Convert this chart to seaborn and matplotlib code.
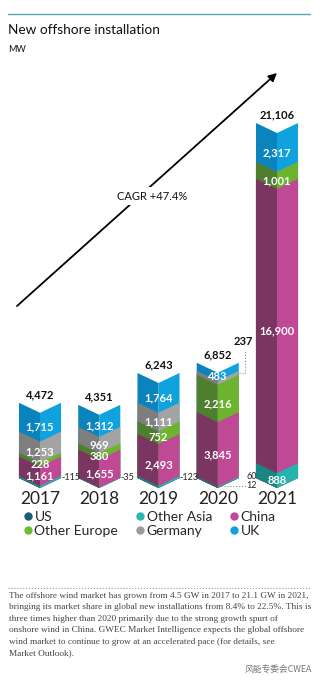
import numpy as np
import pandas as pd
import matplotlib
matplotlib.use("Agg")
import matplotlib.pyplot as plt
import matplotlib.transforms as mtransforms
from matplotlib.lines import Line2D
import seaborn as sns

# ---------------- data ----------------
years = ["2017", "2018", "2019", "2020", "2021"]
us = [0, 0, 0, 12, 0]
other_asia = [115, 35, 123, 60, 888]
china = [1161, 1655, 2493, 3845, 16900]
other_europe = [228, 380, 752, 2216, 1001]
germany = [1253, 969, 1111, 237, 0]
uk = [1715, 1312, 1764, 483, 2317]
totals = [4472, 4351, 6243, 6852, 21106]
series_names = ["US", "Other Asia", "China", "Other Europe", "Germany", "UK"]
cagr_label = "CAGR +47.4%"

light = {"US": "#1b5e7a", "Other Asia": "#23b4af", "China": "#bf4995",
         "Other Europe": "#6cb42d", "Germany": "#a3a3a3", "UK": "#0fa2df"}
dark = {"US": "#154a60", "Other Asia": "#188683", "China": "#7b3561",
        "Other Europe": "#4e7f2e", "Germany": "#7e7e7e", "UK": "#0b83bd"}
legend_colors = {"US": "#1b5e7a", "Other Asia": "#2bb5b0", "China": "#c0479a",
                 "Other Europe": "#6ebd2f", "Germany": "#9a9a9a", "UK": "#12a0e0"}

values = {"US": us, "Other Asia": other_asia, "China": china,
          "Other Europe": other_europe, "Germany": germany, "UK": uk}

# ---------------- figure ----------------
sns.set_theme(style="white")
plt.rcParams['font.family'] = ['Lato', 'DejaVu Sans']

W, H = 325, 680
fig = plt.figure(figsize=(W / 100, H / 100), dpi=100)
ax_top, ax_bot = 100, 490
base_px = 478
k = 0.01682            # px per MW
D = 10 / k             # chevron depth in MW
ax = fig.add_axes([0, 1 - ax_bot / H, 1, (ax_bot - ax_top) / H])

cum = np.cumsum([values[n] for n in series_names], axis=0)

def shear(p):
    x0, w = p.get_x(), p.get_width()
    cx = x0 + w / 2
    c = round(cx)
    if cx < c:   # left half
        a, b = -D / w, D * x0 / w
    else:        # right half
        a, b = D / w, -D - D * x0 / w
    m = np.array([[1, 0, 0], [a, 1, b], [0, 0, 1]], dtype=float)
    p.set_transform(mtransforms.Affine2D(m) + ax.transData)

for i in reversed(range(len(series_names))):
    name = series_names[i]
    df = pd.DataFrame({"year": years * 2,
                       "side": ["L"] * len(years) + ["R"] * len(years),
                       "value": list(cum[i]) * 2})
    n0 = len(ax.patches)
    sns.barplot(data=df, x="year", y="value", hue="side", order=years,
                hue_order=["L", "R"], palette={"L": dark[name], "R": light[name]},
                dodge=True, width=0.71, gap=0, saturation=1, linewidth=0,
                edgecolor="none", legend=False, ax=ax, errorbar=None)
    for p in ax.patches[n0:]:
        shear(p)

ax.set_xlim(-40 / 59.25, (W - 40) / 59.25)
lo = -(ax_bot - base_px) / k
ax.set_ylim(lo, lo + (ax_bot - ax_top) / k)
ax.set_xlabel("")
ax.set_ylabel("")
ax.set_yticks([])
sns.despine(ax=ax, left=True, bottom=True)
ax.tick_params(axis="x", length=0, pad=1, labelsize=12.5, labelcolor="#222222")

# inside labels
for i, name in enumerate(series_names):
    for j, yr in enumerate(years):
        v = values[name][j]
        if v < 200 or (name == "Germany" and yr == "2020"):
            continue
        y = cum[i][j] - v / 2 - D
        ax.text(j, y, f"{v:,}", ha="center", va="center", color="white",
                fontsize=8, fontweight="bold")

# totals
for j, t in enumerate(totals):
    ax.text(j, t + 8 / k, f"{t:,}", ha="center", va="center", color="#111111",
            fontsize=8, fontweight="bold")

# small outside labels
for j in range(3):
    ax.text(j + 0.36, 0, f"-{other_asia[j]}", ha="left", va="center",
            fontsize=6.5, color="#222222")
ax.text(3.48, 60, f"{other_asia[3]}", ha="left", va="center", fontsize=6.5, color="#222222")
ax.text(3.48, -420, f"{us[3]}", ha="left", va="center", fontsize=6.5, color="#222222")
ax.plot([3.0, 3.47], [-470, -470], ls=":", color="#888888", lw=0.8)
ax.text(3.43, 8145, f"{germany[3]}", ha="center", va="center", fontsize=8,
        fontweight="bold", color="#111111")
ax.plot([3.36, 3.46, 3.46], [6250, 6250, 7600], ls=":", color="#888888", lw=0.8)

# CAGR arrow
ax.annotate("", xy=(277, H - 73), xytext=(17, H - 306),
            xycoords="figure pixels", textcoords="figure pixels",
            arrowprops=dict(arrowstyle="-|>", color="black", lw=1.3,
                            mutation_scale=12, shrinkA=0, shrinkB=0))
fig.text(152 / W, 1 - 196 / H, cagr_label, ha="center", va="center", fontsize=8,
         color="#111111", bbox=dict(boxstyle="square,pad=0.3", fc="white", ec="none"))

# header
fig.add_artist(Line2D([8 / W, 310 / W], [1 - 14 / H, 1 - 14 / H], color="#5aa5b5", lw=1))
fig.text(8 / W, 1 - 30 / H, "New offshore installation", ha="left", va="center",
         fontsize=9.8, color="#111111")
fig.text(8 / W, 1 - 50 / H, "MW", ha="left", va="center", fontsize=6.5, color="#111111")

# legend
order = ["US", "Other Europe", "Other Asia", "Germany", "China", "UK"]
handles = [Line2D([], [], marker="o", ls="", markersize=5, color=legend_colors[n],
                  label=n) for n in order]
fig.legend(handles=handles, loc="upper left", bbox_to_anchor=(24 / W, 1 - 511 / H),
           ncol=3, frameon=False, fontsize=10, handletextpad=0.15, handlelength=0.6,
           columnspacing=1.3, labelspacing=0.15, borderpad=0, borderaxespad=0)

# footer
fig.add_artist(Line2D([8 / W, 310 / W], [1 - 588 / H, 1 - 588 / H], color="#999999",
                      lw=0.8, ls=":"))
para = ("The offshore wind market has grown from 4.5 GW in 2017 to 21.1 GW in 2021,\n"
        "bringing its market share in global new installations from 8.4% to 22.5%. This is\n"
        "three times higher than 2020 primarily due to the strong growth spurt of\n"
        "onshore wind in China. GWEC Market Intelligence expects the global offshore\n"
        "wind market to continue to grow at an accelerated pace (for details, see\n"
        "Market Outlook).")
fig.text(9 / W, 1 - 592 / H, para, ha="left", va="top", fontsize=6.7,
         family=["Liberation Serif"], color="#444444", linespacing=1.58)
fig.text(312 / W, 1 - 669 / H, "风能专委会CWEA", ha="right", va="center", fontsize=6.3,
         family=["Noto Sans CJK SC", "DejaVu Sans"], color="#777777")

fig.savefig("out.png", dpi=100)
